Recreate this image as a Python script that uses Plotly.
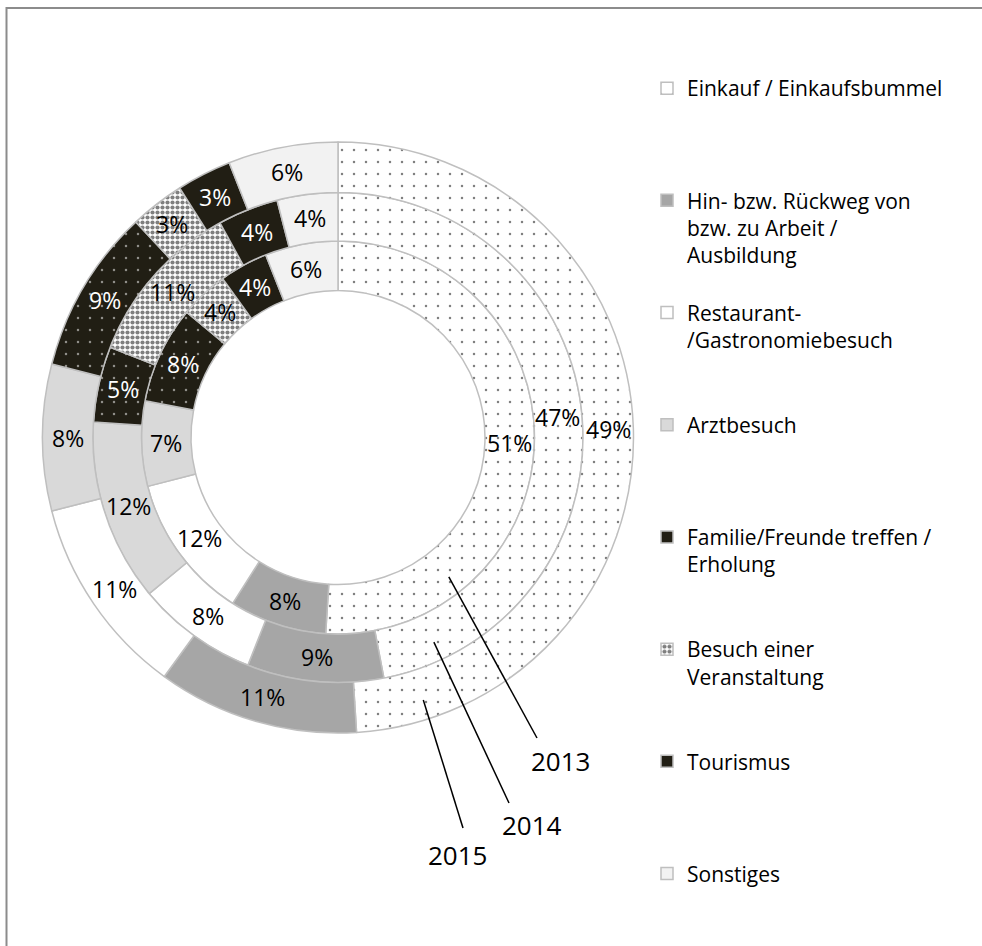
import math
import plotly.graph_objects as go

# Reasons for visiting the city centre, share of answers per survey year (%)
categories = [
    "Einkauf / Einkaufsbummel",
    "Hin- bzw. Rückweg von bzw. zu Arbeit / Ausbildung",
    "Restaurant-/Gastronomiebesuch",
    "Arztbesuch",
    "Familie/Freunde treffen / Erholung",
    "Besuch einer Veranstaltung",
    "Tourismus",
    "Sonstiges",
]
legend_labels = [
    "Einkauf / Einkaufsbummel",
    "Hin- bzw. Rückweg von<br>bzw. zu Arbeit /<br>Ausbildung",
    "Restaurant-<br>/Gastronomiebesuch",
    "Arztbesuch",
    "Familie/Freunde treffen /<br>Erholung",
    "Besuch einer<br>Veranstaltung",
    "Tourismus",
    "Sonstiges",
]
years = ["2013", "2014", "2015"]
share_2013 = [51, 8, 12, 7, 8, 4, 4, 6]
share_2014 = [47, 9, 8, 12, 5, 11, 4, 4]
share_2015 = [49, 11, 11, 8, 9, 3, 3, 6]

W, H = 982, 946
FONT = "Open Sans"
CX, CY = 338.0, 437.5                      # pie centre in pixels
RING_EDGES = [147.0, 196.5, 245.0, 295.5]  # inner 2013 ... outer 2015

DARK = "#211e14"
EDGE = "#bfbfbf"
fills = ["white", "#a6a6a6", "white", "#d9d9d9", DARK, "white", DARK, "#f2f2f2"]
pat_shape = [".", "", "", "", ".", ".", "", ""]
pat_fg = ["black", "black", "black", "black", "white", "black", "black", "black"]
pat_size = [12, 8, 8, 8, 12, 5, 8, 8]
pat_solid = [0.035, 0.3, 0.3, 0.3, 0.035, 0.55, 0.3, 0.3]
text_colors = ["black", "black", "black", "black", "white", "black", "white", "black"]


def px(x):
    return x / W


def py(y):
    return 1 - y / H


def pad_lines(label, n=4):
    lines = label.count("<br>") + 1
    return label + "<br> " * (n - lines)


# every legend entry takes four text lines, except the last one
labels = [pad_lines(l) for l in legend_labels[:-1]] + [legend_labels[-1]]

fig = go.Figure()
annotations = []
for i, (year, vals) in enumerate(zip(years, [share_2013, share_2014, share_2015])):
    r_in, r_out = RING_EDGES[i], RING_EDGES[i + 1]
    fig.add_trace(go.Pie(
        name=year,
        labels=labels,
        values=vals,
        customdata=categories,
        sort=False,
        direction="clockwise",
        rotation=0,
        hole=r_in / r_out,
        domain=dict(x=[px(CX - r_out), px(CX + r_out)],
                    y=[py(CY + r_out), py(CY - r_out)]),
        marker=dict(
            colors=fills,
            line=dict(color=EDGE, width=1.5),
            pattern=dict(shape=pat_shape, fgcolor=pat_fg, bgcolor=fills,
                         size=pat_size, solidity=pat_solid, fillmode="overlay"),
        ),
        textinfo="none",
        hovertemplate="%{customdata}<br>" + year + ": %{value}%<extra></extra>",
        showlegend=(i == 0),
    ))

    # value labels at the middle of each segment (mid angle, mid radius)
    total = float(sum(vals))
    r_mid = (r_in + r_out) / 2
    cum = 0.0
    for v, col in zip(vals, text_colors):
        ang = 2 * math.pi * (cum + v / 2) / total
        cum += v
        annotations.append(dict(
            text=f"{v}%", xref="paper", yref="paper",
            x=px(CX + r_mid * math.sin(ang)), y=py(CY - r_mid * math.cos(ang)),
            showarrow=False, xanchor="center", yanchor="middle",
            font=dict(family=FONT, size=23, color=col)))

# Leader lines naming each ring: (angle clockwise from 12 o'clock, radius) -> text
callouts = [
    ("2013", 141.5, 178, (537, 738), (560, 761)),
    ("2014", 154.9, 226, (509, 803), (532, 825)),
    ("2015", 162.0, 276, (463, 828), (457, 855)),
]
shapes = []
for year, ang, rad, end, txt in callouts:
    a = math.radians(ang)
    sx = CX + rad * math.sin(a)
    sy = CY - rad * math.cos(a)
    shapes.append(dict(type="line", xref="paper", yref="paper",
                       x0=px(sx), y0=py(sy), x1=px(end[0]), y1=py(end[1]),
                       line=dict(color="black", width=1.5)))
    annotations.append(dict(text=year, xref="paper", yref="paper",
                            x=px(txt[0]), y=py(txt[1]), showarrow=False,
                            xanchor="center", yanchor="middle",
                            font=dict(family=FONT, size=26, color="black")))

# Chart frame
shapes.append(dict(type="rect", xref="paper", yref="paper",
                   x0=px(6.5), x1=1.05, y0=-0.05, y1=py(8),
                   line=dict(color="#8c8c8c", width=2), fillcolor="rgba(0,0,0,0)"))

fig.update_layout(
    width=W, height=H,
    margin=dict(l=0, r=0, t=0, b=0, autoexpand=False),
    paper_bgcolor="white",
    plot_bgcolor="white",
    font=dict(family=FONT, color="black"),
    shapes=shapes,
    annotations=annotations,
    legend=dict(
        x=px(647), y=py(68), xanchor="left", yanchor="top",
        valign="top", itemwidth=30, traceorder="normal",
        font=dict(family=FONT, size=21, color="black"),
        bgcolor="rgba(0,0,0,0)",
    ),
)

fig.write_html("out.html")
